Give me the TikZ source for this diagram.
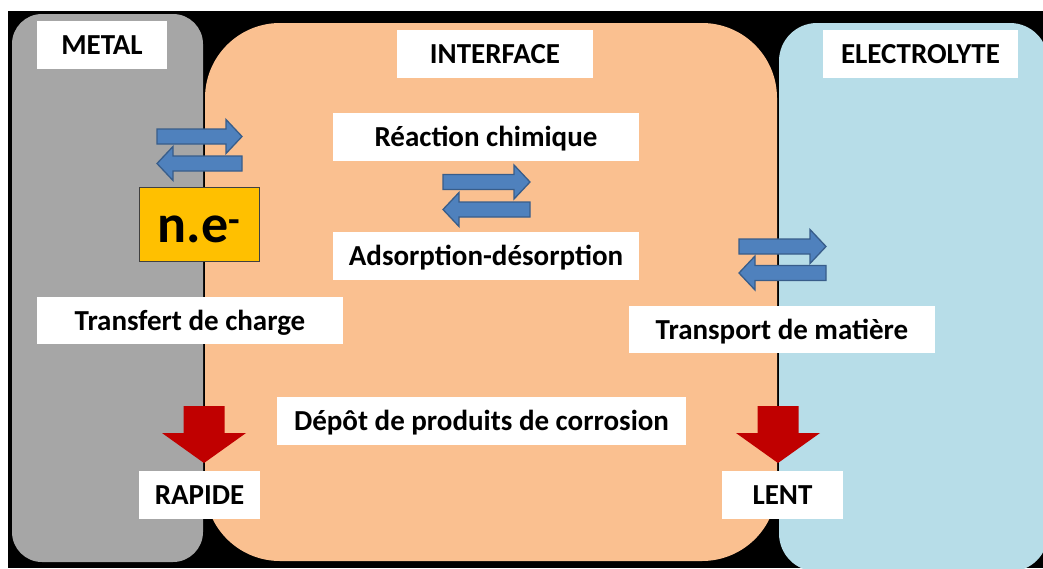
\documentclass[tikz,border=0pt]{standalone}
\usepackage{fontspec}
\setmainfont{Carlito}
\definecolor{metalc}{HTML}{A6A6A6}
\definecolor{interc}{HTML}{FAC090}
\definecolor{electc}{HTML}{B7DDE8}
\definecolor{elecbox}{HTML}{FFC000}
\definecolor{arrfill}{HTML}{4F81BD}
\definecolor{arrline}{HTML}{385D8A}
\definecolor{redarr}{HTML}{C00000}
\newcommand{\myharrow}[3]{%
  \pgfmathsetmacro\hd{(#2>#1)?16:-16}%
  \filldraw[bluearrow] (#1,#3-7.5) -- (#2-\hd,#3-7.5) -- (#2-\hd,#3-17) -- (#2,#3)
    -- (#2-\hd,#3+17) -- (#2-\hd,#3+7.5) -- (#1,#3+7.5) -- cycle;}
\newcommand{\myvarrow}[1]{%
  \fill[redarr] (#1-20.5,406) -- (#1+20.5,406) -- (#1+20.5,433) -- (#1+42,433)
    -- (#1,463) -- (#1-42,433) -- (#1-20.5,433) -- cycle;}
\begin{document}
\begin{tikzpicture}[x=1pt,y=-1pt,
  bluearrow/.style={fill=arrfill,draw=arrline,line width=1.3pt,line join=miter},
  lbl/.style={fill=white,inner sep=0pt,minimum height=48pt,font=\fontsize{29}{32}\selectfont\bfseries,
    text height=19pt,text depth=0pt,anchor=center}]
\useasboundingbox (0,0) rectangle (1043,568);
\fill[black] (8,11) rectangle (1043,568);
\begin{scope}
  \clip (8,11) rectangle (1043,568);
  \fill[metalc, rounded corners=30pt] (12,14) rectangle (203,562);
  \fill[interc, rounded corners=75pt] (205,23) rectangle (777,561);
  \fill[electc, rounded corners=38pt] (779,23) rectangle (1048,571.5);
\end{scope}
% labels
\node[lbl,minimum width=130pt] (metal) at (102,45) {METAL};
\node[lbl,minimum width=196pt] (interface) at (495,54) {INTERFACE};
\node[lbl,minimum width=195pt] (electrolyte) at (920.5,54) {ELECTROLYTE};
\node[lbl,minimum width=306pt] (reaction) at (486,137) {Réaction chimique};
\node[lbl,minimum width=306pt] (adsorption) at (486,256) {Adsorption-désorption};
\node[lbl,minimum width=306pt,minimum height=47pt] (transfert) at (190,320.5) {Transfert de charge};
\node[lbl,minimum width=306pt,minimum height=47pt] (transport) at (782,329.5) {Transport de matière};
\node[lbl,minimum width=409pt] (depot) at (481.5,421) {Dépôt de produits de corrosion};
\node[lbl,minimum width=121pt] (rapide) at (199.5,495) {RAPIDE};
\node[lbl,minimum width=121pt] (lent) at (782.5,495) {LENT};
\node[fill=elecbox,draw=black!75,line width=0.8pt,inner sep=0pt,minimum width=120pt,minimum height=74pt,
  font=\fontsize{54}{60}\selectfont\bfseries,text height=36pt,text depth=0pt] (ne) at (199,224) {n.e\textsuperscript{-}};
% blue double arrows
\myharrow{157}{242}{136.5}
\myharrow{242}{157}{163.5}
\myharrow{443}{530}{182}
\myharrow{530}{443}{209.5}
\myharrow{739}{826}{246.5}
\myharrow{826}{739}{273}
% red arrows
\myvarrow{204}
\myvarrow{778}
\end{tikzpicture}
\end{document}
